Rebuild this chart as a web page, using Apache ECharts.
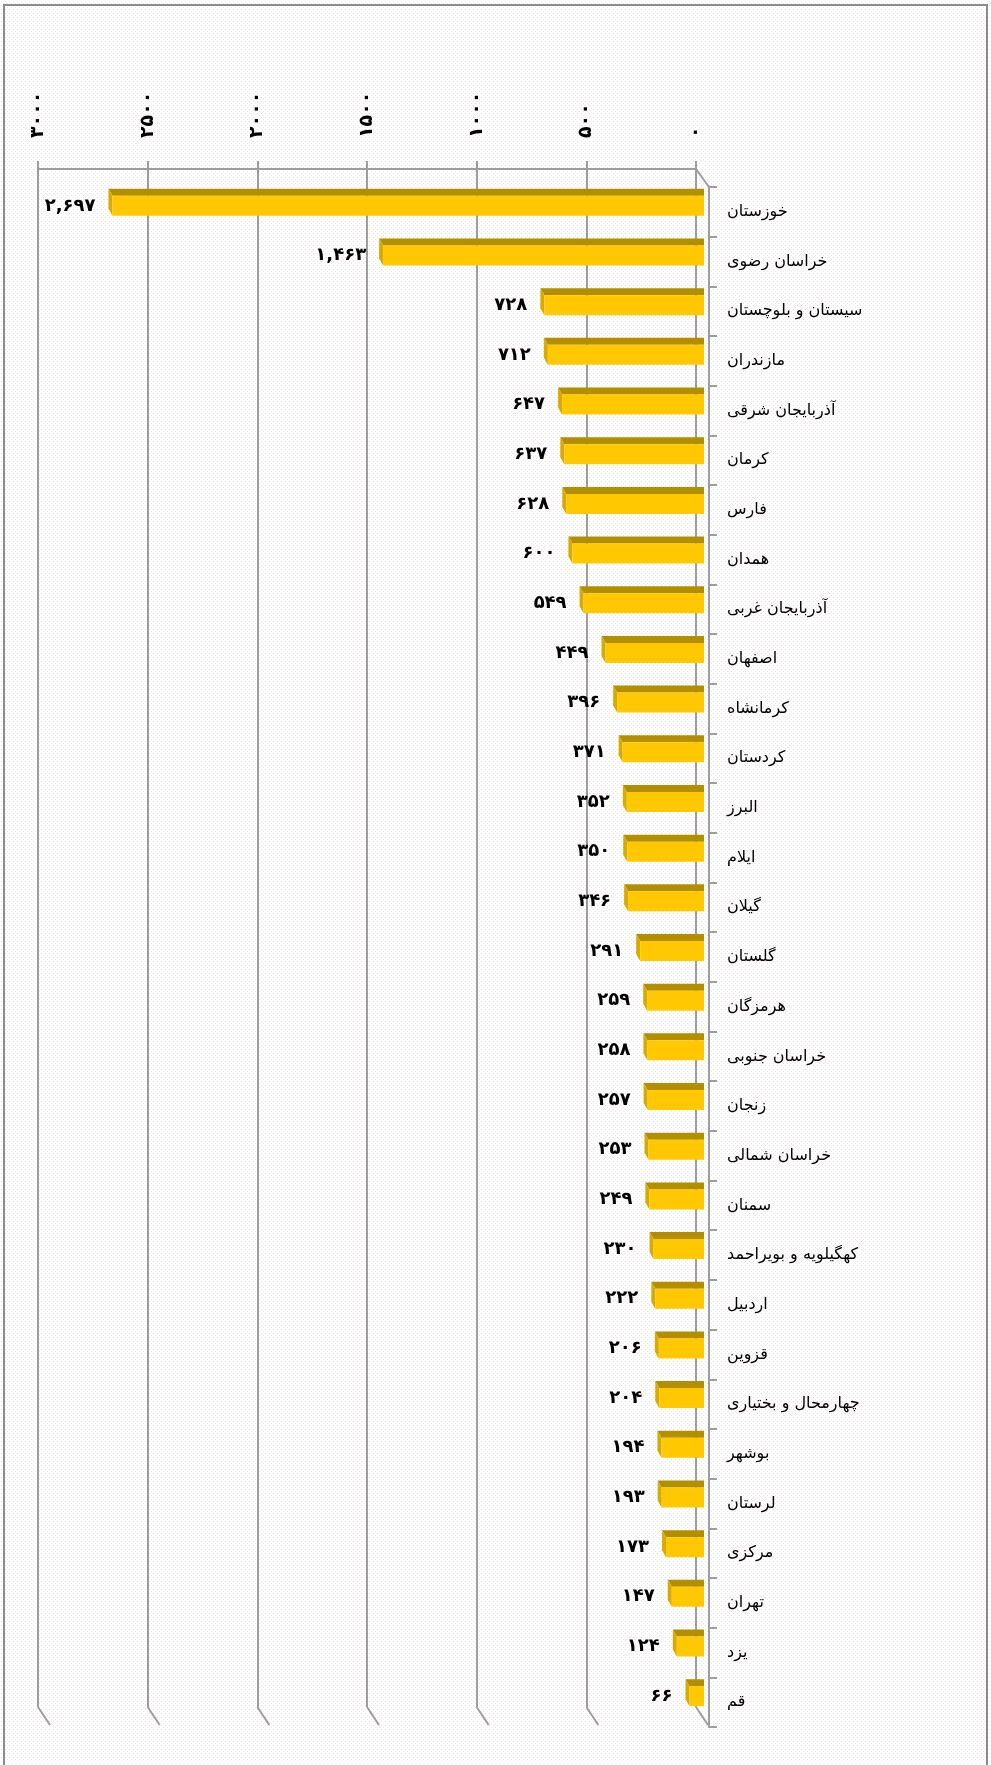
<!DOCTYPE html>
<html>
<head>
<meta charset="utf-8">
<script src="https://cdn.jsdelivr.net/npm/echarts@6/dist/echarts.min.js"></script>
<style>
  html, body { margin: 0; padding: 0; background: #fff; }
  #chart { width: 991px; height: 1765px; }
</style>
</head>
<body>
<div id="chart"></div>
<script>
var provinces = [
    'خوزستان', 'خراسان رضوی', 'سیستان و بلوچستان', 'مازندران', 'آذربایجان شرقی',
    'کرمان', 'فارس', 'همدان', 'آذربایجان غربی', 'اصفهان',
    'کرمانشاه', 'کردستان', 'البرز', 'ایلام', 'گیلان',
    'گلستان', 'هرمزگان', 'خراسان جنوبی', 'زنجان', 'خراسان شمالی',
    'سمنان', 'کهگیلویه و بویراحمد', 'اردبیل', 'قزوین', 'چهارمحال و بختیاری',
    'بوشهر', 'لرستان', 'مرکزی', 'تهران', 'یزد', 'قم'
];
var counts = [2697, 1463, 728, 712, 647, 637, 628, 600, 549, 449,
    396, 371, 352, 350, 346, 291, 259, 258, 257, 253,
    249, 230, 222, 206, 204, 194, 193, 173, 147, 124, 66];
var axisTicks = [0, 500, 1000, 1500, 2000, 2500, 3000];

var GRID_COLOR = '#9d9d9d';

// persian digits, with "," as thousands separator
var toFa = function (n, sep) {
    var s = String(n);
    if (sep) s = s.replace(/\B(?=(\d{3})+(?!\d))/g, ',');
    return s.replace(/[0-9]/g, function (d) { return '۰۱۲۳۴۵۶۷۸۹'[+d]; });
};

// dotted paper background
var bgCanvas = document.createElement('canvas');
bgCanvas.width = 4;
bgCanvas.height = 4;
var bgCtx = bgCanvas.getContext('2d');
bgCtx.fillStyle = '#ffffff';
bgCtx.fillRect(0, 0, 4, 4);
bgCtx.fillStyle = '#efdfdf';
bgCtx.fillRect(1, 1, 1, 1);
bgCtx.fillStyle = '#ececec';
bgCtx.fillRect(3, 3, 1, 1);

var chart = echarts.init(document.getElementById('chart'));

chart.setOption({
    backgroundColor: {image: bgCanvas, repeat: 'repeat'},
    animation: false,
    graphic: [{
        type: 'rect',
        shape: {x: 4, y: 5, width: 983, height: 1770},
        style: {fill: 'none', stroke: '#8c8c8c', lineWidth: 2},
        z: 0
    }],
    grid: [
        // back wall
        {left: 38, right: 295, top: 169, bottom: 58},
        // bars / front
        {left: 46, right: 287, top: 187, bottom: 38}
    ],
    xAxis: [{
        gridIndex: 0,
        type: 'value',
        position: 'top',
        inverse: true,
        min: 0,
        max: 3000,
        interval: 500,
        axisLine: {show: true, onZero: false, lineStyle: {color: GRID_COLOR, width: 2}},
        axisTick: {show: true, length: 8, lineStyle: {color: GRID_COLOR, width: 2}},
        splitLine: {show: true, lineStyle: {color: GRID_COLOR, width: 2}},
        axisLabel: {
            rotate: -90,
            margin: 31,
            color: '#000',
            fontFamily: 'DejaVu Sans',
            fontWeight: 'bold',
            fontSize: 19,
            formatter: function (v) { return toFa(v, false); }
        }
    }, {
        gridIndex: 1,
        type: 'value',
        inverse: true,
        min: 0,
        max: 3000,
        show: false
    }],
    yAxis: [{
        gridIndex: 0,
        type: 'value',
        min: 0,
        max: 1,
        show: false
    }, {
        gridIndex: 1,
        type: 'category',
        position: 'right',
        offset: 5,
        inverse: true,
        data: provinces,
        axisLine: {show: true, onZero: false, lineStyle: {color: GRID_COLOR, width: 2}},
        axisTick: {show: true, length: 8, lineStyle: {color: GRID_COLOR, width: 2}},
        splitLine: {show: false},
        axisLabel: {
            margin: 18,
            color: '#000',
            fontFamily: 'DejaVu Sans',
            fontSize: 16,
            align: 'left'
        }
    }],
    series: [{
        // 3d floor edges of the gridlines
        type: 'custom',
        xAxisIndex: 0,
        yAxisIndex: 0,
        silent: true,
        data: axisTicks.map(function (t) { return [t, 0]; }),
        renderItem: function (params, api) {
            var v = api.value(0);
            var p = api.coord([v, 0]);
            var kids = [{
                type: 'line',
                shape: {x1: p[0], y1: p[1], x2: p[0] + 12, y2: p[1] + 18},
                style: {stroke: GRID_COLOR, lineWidth: 2}
            }];
            if (v === 0) {
                var q = api.coord([0, 1]);
                kids.push({
                    type: 'line',
                    shape: {x1: q[0], y1: q[1], x2: q[0] + 13, y2: q[1] + 18},
                    style: {stroke: GRID_COLOR, lineWidth: 2}
                });
            }
            return {type: 'group', children: kids};
        }
    }, {
        // bars with a top and a side face
        type: 'custom',
        xAxisIndex: 1,
        yAxisIndex: 1,
        silent: true,
        data: counts.map(function (v, i) { return [v, i]; }),
        encode: {x: 0, y: 1},
        renderItem: function (params, api) {
            var v = api.value(0);
            var p0 = api.coord([0, api.value(1)]);
            var p1 = api.coord([v, api.value(1)]);
            var xr = p0[0], xl = p1[0];
            var yt = p0[1] - 16, yb = yt + 20;
            return {
                type: 'group',
                children: [{
                    type: 'polygon',
                    shape: {points: [[xl, yt], [xr, yt], [xr, yt - 7], [xl - 4, yt - 7]]},
                    style: {fill: '#b38f00'}
                }, {
                    type: 'polygon',
                    shape: {points: [[xl, yt], [xl - 4, yt - 7], [xl - 4, yb - 7], [xl, yb]]},
                    style: {fill: '#d9aa00'}
                }, {
                    type: 'rect',
                    shape: {x: xl, y: yt, width: xr - xl, height: yb - yt},
                    style: {fill: '#ffc800'}
                }, {
                    type: 'text',
                    style: {
                        text: toFa(v, true),
                        x: xl - 17,
                        y: (yt + yb) / 2,
                        align: 'right',
                        verticalAlign: 'middle',
                        textAlign: 'right',
                        textVerticalAlign: 'middle',
                        fill: '#000',
                        font: 'bold 18px "DejaVu Sans"'
                    }
                }]
            };
        }
    }]
});
</script>
</body>
</html>
